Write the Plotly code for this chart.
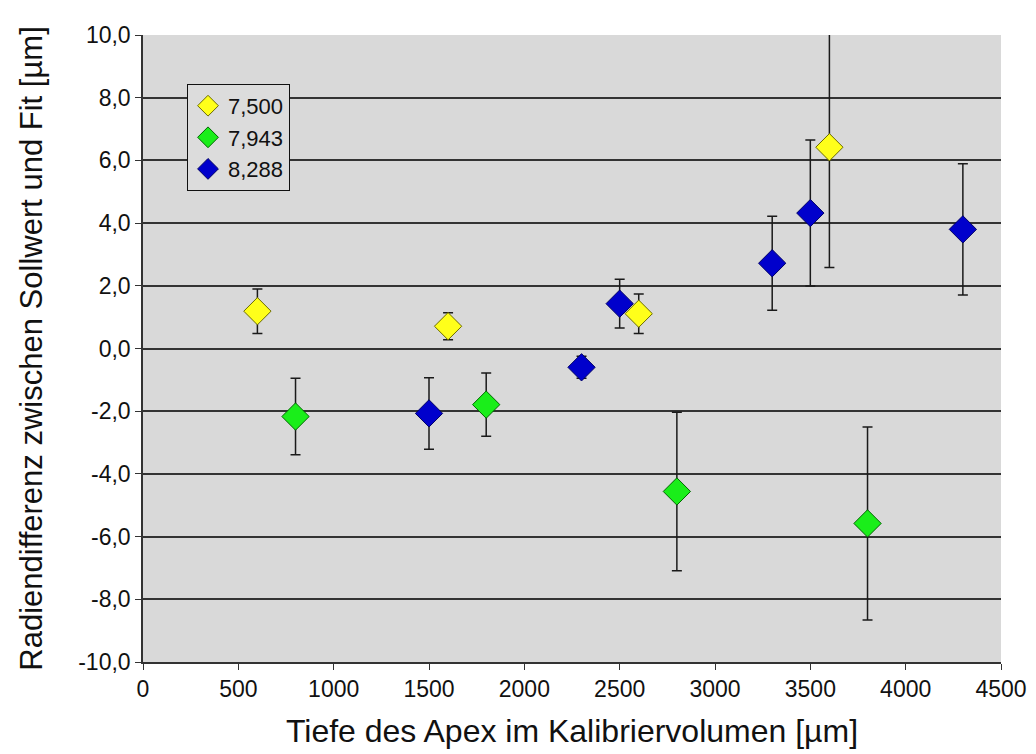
import plotly.graph_objects as go

# Series 7,500
x_7500 = [600, 1600, 2600, 3600]
y_7500 = [1.19, 0.71, 1.11, 6.42]
e_7500 = [0.71, 0.43, 0.63, 3.84]

# Series 7,943
x_7943 = [800, 1800, 2800, 3800]
y_7943 = [-2.17, -1.79, -4.56, -5.58]
e_7943 = [1.22, 1.01, 2.53, 3.08]

# Series 8,288
x_8288 = [1500, 2300, 2500, 3300, 3500, 4300]
y_8288 = [-2.07, -0.60, 1.43, 2.72, 4.32, 3.80]
e_8288 = [1.14, 0.35, 0.78, 1.50, 2.33, 2.09]

# Tick labels
y_tickvals = [-10, -8, -6, -4, -2, 0, 2, 4, 6, 8, 10]
y_ticktext = ["-10,0", "-8,0", "-6,0", "-4,0", "-2,0", "0,0",
              "2,0", "4,0", "6,0", "8,0", "10,0"]

series = [
    ("7,500", x_7500, y_7500, e_7500, "#ffff1a", "#6b6b00"),
    ("7,943", x_7943, y_7943, e_7943, "#1aee1a", "#006600"),
    ("8,288", x_8288, y_8288, e_8288, "#0000cc", "#000066"),
]

fig = go.Figure()
for name, xs, ys, es, fill, edge in series:
    fig.add_trace(go.Scatter(
        x=xs, y=ys, mode="markers", name=name, cliponaxis=False,
        marker=dict(symbol="diamond", size=21, color=fill,
                    line=dict(color=edge, width=1)),
        error_y=dict(type="data", array=es, visible=True,
                     color="#1a1a1a", thickness=1.5, width=5),
    ))

font_fam = "Liberation Sans, Arial, sans-serif"
fig.update_layout(
    width=1036, height=754,
    margin=dict(l=143, r=35, t=35, b=92),
    paper_bgcolor="white",
    plot_bgcolor="#d9d9d9",
    separators=",.",
    font=dict(family=font_fam, color="#111111"),
    showlegend=True,
    legend=dict(
        x=0.0513, y=0.922, xanchor="left", yanchor="top",
        bgcolor="#dcdcdc", bordercolor="#111111", borderwidth=1,
        font=dict(size=22, family=font_fam),
    ),
    xaxis=dict(
        range=[0, 4500], dtick=500, tick0=0, tickformat="d",
        showgrid=False, zeroline=False, automargin=False,
        showline=True, linecolor="#333333", linewidth=1.5,
        ticks="outside", ticklen=6, tickcolor="#333333",
        tickfont=dict(size=23),
        title=dict(text="Tiefe des Apex im Kalibriervolumen [µm]",
                   font=dict(size=32), standoff=18),
    ),
    yaxis=dict(
        range=[-10, 10], tickmode="array",
        tickvals=y_tickvals, ticktext=y_ticktext,
        showgrid=True, gridcolor="#333333", gridwidth=1.5,
        zeroline=False, automargin=False,
        showline=True, linecolor="#333333", linewidth=1.5,
        ticks="outside", ticklen=6, tickcolor="#333333",
        tickfont=dict(size=23),
        title=dict(text="Radiendifferenz zwischen Sollwert und Fit [µm]",
                   font=dict(size=31), standoff=26),
    ),
)

fig.write_html("out.html", config={"displayModeBar": False},
               post_script="document.body.style.margin='0';")
